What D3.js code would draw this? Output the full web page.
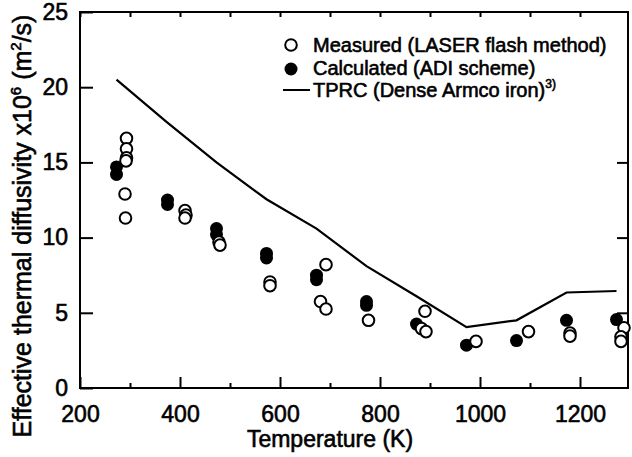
<!DOCTYPE html>
<html>
<head>
<meta charset="utf-8">
<script src="https://cdn.jsdelivr.net/npm/d3@7"></script>
<style>
  body { margin: 0; background: #fff; }
  text { font-family: "Liberation Sans", Arial, sans-serif; fill: #000; stroke: #000; stroke-width: 0.6px; }
</style>
</head>
<body>
<div id="chart"></div>
<script>
// measured (open circles)
var measuredT = [293, 293, 293, 292, 290, 291, 410, 412, 410, 478, 480, 580, 580, 692, 681, 692, 777, 890, 883, 892, 992, 1097, 1180, 1180, 1288, 1282, 1282];
var measuredD = [16.6, 15.9, 15.3, 15.1, 12.9, 11.3, 11.8, 11.5, 11.3, 9.7, 9.5, 7.05, 6.8, 8.2, 5.75, 5.25, 4.5, 5.1, 3.95, 3.75, 3.1, 3.75, 3.65, 3.45, 4.0, 3.4, 3.1];

// calculated (filled circles)
var calcT = [273, 273, 375, 375, 473, 473, 573, 573, 673, 673, 773, 773, 873, 973, 1073, 1173, 1273];
var calcD = [14.7, 14.2, 12.5, 12.2, 10.6, 10.2, 8.95, 8.65, 7.5, 7.2, 5.75, 5.5, 4.25, 2.85, 3.15, 4.5, 4.55];

// TPRC line
var tprcT = [273, 373, 473, 573, 673, 773, 873, 973, 1073, 1173, 1273];
var tprcD = [20.5, 17.7, 15.0, 12.55, 10.6, 8.1, 6.1, 4.05, 4.5, 6.35, 6.45];

var xMajor = [200, 400, 600, 800, 1000, 1200];
var xMinor = [300, 500, 700, 900, 1100];
var yTicks = [0, 5, 10, 15, 20, 25];

var legendLabels = ["Measured (LASER flash method)", "Calculated (ADI scheme)", "TPRC (Dense Armco iron)"];

var width = 632, height = 457;
var margin = {top: 12, right: 4, bottom: 69, left: 80};

var svg = d3.select("#chart").append("svg")
    .attr("width", width)
    .attr("height", height);

var x = d3.scaleLinear()
    .domain([200, 1296])
    .range([margin.left, width - margin.right]);

var y = d3.scaleLinear()
    .domain([0, 25])
    .range([height - margin.bottom, margin.top]);

// frame
svg.append("rect")
    .attr("x", x(200))
    .attr("y", y(25))
    .attr("width", x(1296) - x(200))
    .attr("height", y(0) - y(25))
    .attr("fill", "none")
    .attr("stroke", "#000")
    .attr("stroke-width", 2);

// bottom ticks (inward)
svg.append("g")
    .attr("transform", `translate(0,${y(0)})`)
    .call(d3.axisBottom(x).tickValues(xMajor).tickSize(-11).tickPadding(18).tickFormat(d3.format("d")))
    .call(g => g.select(".domain").remove())
    .call(g => g.selectAll("line").attr("stroke-width", 2))
    .call(g => g.selectAll("text").attr("font-size", 23).attr("font-family", "Liberation Sans").attr("fill", "#000"));

svg.append("g")
    .attr("transform", `translate(0,${y(0)})`)
    .call(d3.axisBottom(x).tickValues(xMinor).tickSize(-5).tickFormat(""))
    .call(g => g.select(".domain").remove())
    .call(g => g.selectAll("line").attr("stroke-width", 2));

// top ticks
svg.append("g")
    .attr("transform", `translate(0,${y(25)})`)
    .call(d3.axisTop(x).tickValues(xMajor.concat(xMinor)).tickSize(-5).tickFormat(""))
    .call(g => g.select(".domain").remove())
    .call(g => g.selectAll("line").attr("stroke-width", 2));

// left axis
svg.append("g")
    .attr("transform", `translate(${x(200)},0)`)
    .call(d3.axisLeft(y).tickValues(yTicks).tickSize(-13).tickPadding(12))
    .call(g => g.select(".domain").remove())
    .call(g => g.selectAll("line").attr("stroke-width", 2))
    .call(g => g.selectAll("text").attr("font-size", 23).attr("font-family", "Liberation Sans").attr("fill", "#000"));

// right ticks
svg.append("g")
    .attr("transform", `translate(${x(1296)},0)`)
    .call(d3.axisRight(y).tickValues([5, 10, 15]).tickSize(-11).tickFormat(""))
    .call(g => g.select(".domain").remove())
    .call(g => g.selectAll("line").attr("stroke-width", 2));

// TPRC line
var line = d3.line()
    .x((d, i) => x(tprcT[i]))
    .y(d => y(d));

svg.append("path")
    .datum(tprcD)
    .attr("d", line)
    .attr("fill", "none")
    .attr("stroke", "#000")
    .attr("stroke-width", 2.2);

// calculated points
svg.append("g")
  .selectAll("circle")
  .data(calcD)
  .join("circle")
    .attr("cx", (d, i) => x(calcT[i]))
    .attr("cy", d => y(d))
    .attr("r", 6.5)
    .attr("fill", "#000");

// measured points
svg.append("g")
  .selectAll("circle")
  .data(measuredD)
  .join("circle")
    .attr("cx", (d, i) => x(measuredT[i]))
    .attr("cy", d => y(d))
    .attr("r", 5.8)
    .attr("fill", "#fff")
    .attr("stroke", "#000")
    .attr("stroke-width", 2);

//legend
var leg = svg.append("g");
leg.append("circle").attr("cx", 291).attr("cy", 45).attr("r", 5.8)
    .attr("fill", "#fff").attr("stroke", "#000").attr("stroke-width", 2);
leg.append("circle").attr("cx", 291).attr("cy", 69).attr("r", 6.5).attr("fill", "#000");
leg.append("line").attr("x1", 283).attr("x2", 310).attr("y1", 90).attr("y2", 90)
    .attr("stroke", "#000").attr("stroke-width", 2);

leg.selectAll("text.lab")
  .data(legendLabels)
  .join("text")
    .attr("class", "lab")
    .attr("x", 313)
    .attr("y", (d, i) => [52, 75, 97][i])
    .attr("font-size", 20)
    .text(d => d);

leg.select("text.lab:last-of-type")
  .append("tspan")
    .attr("font-size", 12)
    .attr("dy", -9)
    .text("3)");

//label for x-axis
svg.append("text")
    .attr("x", x(700))
    .attr("y", 447)
    .attr("text-anchor", "middle")
    .attr("font-size", 23)
    .text("Temperature (K)");

//label for y-axis
var yl = svg.append("text")
    .attr("transform", "rotate(-90)")
    .attr("x", -226)
    .attr("y", 31)
    .attr("text-anchor", "middle")
    .attr("font-size", 25);
yl.append("tspan").text("Effective thermal diffusivity x10");
yl.append("tspan").attr("font-size", 15).attr("dy", -10).text("6");
yl.append("tspan").attr("dy", 10).text(" (m");
yl.append("tspan").attr("font-size", 15).attr("dy", -10).text("2");
yl.append("tspan").attr("dy", 10).text("/s)");
</script>
</body>
</html>
